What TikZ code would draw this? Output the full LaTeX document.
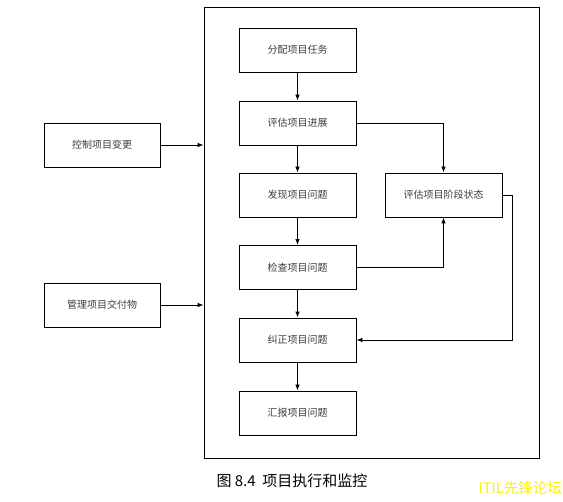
\documentclass[tikz,border=0pt]{standalone}
\usepackage{fontspec}
\setmainfont{Noto Sans CJK SC}
\usetikzlibrary{arrows.meta}

\definecolor{boxtext}{RGB}{60,60,60}
\definecolor{markyellow}{RGB}{250,240,0}

\tikzset{
  stepbox/.style={draw,line width=0.8pt,minimum width=117pt,minimum height=44pt,
    inner sep=0pt,font=\fontsize{10}{12}\selectfont,text=boxtext},
  flow/.style={line width=0.8pt,-{Latex[length=6pt,width=4.5pt]}}
}

\begin{document}
\begin{tikzpicture}[x=1pt,y=-1pt]
  \useasboundingbox (0,0) rectangle (563,502);
  % outer frame
  \node[draw,line width=0.8pt,minimum width=335pt,minimum height=451pt,inner sep=0pt] (frame) at (371.5,232.5) {};
  \draw[line width=1.8pt] (frame.north east) -- (frame.south east);
  % main column
  \node[stepbox] (assign) at (297.5,50) {分配项目任务};
  \node[stepbox] (assess) at (297.5,123) {评估项目进展};
  \node[stepbox] (find) at (297.5,195) {发现项目问题};
  \node[stepbox] (check) at (297.5,267.5) {检查项目问题};
  \node[stepbox] (fix) at (297.5,340) {纠正项目问题};
  \node[stepbox] (report) at (297.5,413) {汇报项目问题};
  \node[stepbox] (phase) at (443.5,195) {评估项目阶段状态};
  % inputs on the left
  \node[stepbox,minimum width=116pt] (change) at (102,145) {控制项目变更};
  \node[stepbox,minimum width=116pt] (deliver) at (102,305) {管理项目交付物};
  \coordinate (loop) at (512,340);

  \draw[flow] (assign) -- (assess);
  \draw[flow] (assess) -- (find);
  \draw[flow] (find) -- (check);
  \draw[flow] (check) -- (fix);
  \draw[flow] (fix) -- (report);
  \draw[flow] (assess.east) -| (phase.north);
  \draw[flow] (check.east) -| (phase.south);
  \draw[flow] (phase.east) -| (loop) -- (fix.east);
  \draw[flow] (change.east) -- (change.east -| frame.west);
  \draw[flow] (deliver.east) -- (deliver.east -| frame.west);

  % caption and mark
  \node[font=\fontsize{15}{18}\selectfont] (caption) at (292,481) {图 8.4\ \ 项目执行和监控};
  \node[text=markyellow,font=\fontsize{14.5}{16}\selectfont,anchor=east,inner sep=1pt] (mark) at (563,488) {ITIL先锋论坛};
\end{tikzpicture}
\end{document}
